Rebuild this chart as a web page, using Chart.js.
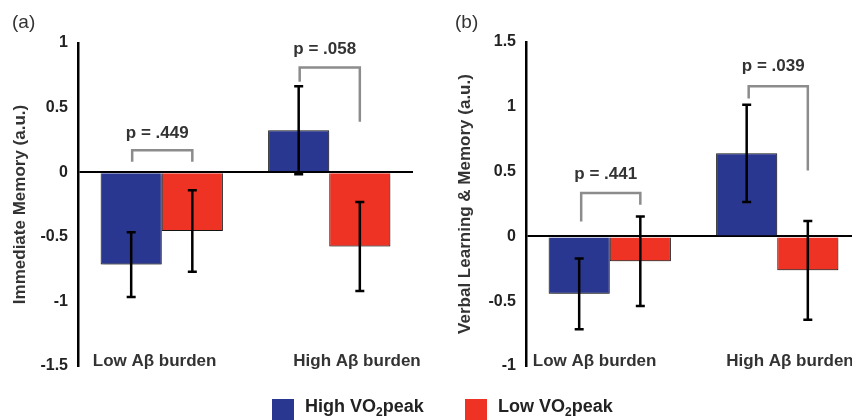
<!DOCTYPE html>
<html><head><meta charset="utf-8">
<script src="https://cdn.jsdelivr.net/npm/chart.js@4/dist/chart.umd.min.js"></script>
<style>
html,body{margin:0;padding:0;width:852px;height:420px;overflow:hidden;background:#fff;}
#wrap{position:relative;width:852px;height:420px;overflow:hidden;}
canvas{position:absolute;top:0;}
#ca{left:0;}
#cb{left:440px;}
.sw{position:absolute;top:399px;width:22px;height:21px;}
.lt{position:absolute;top:396px;font:bold 18px "Liberation Sans",Arial,sans-serif;color:#222;line-height:20px;white-space:nowrap;}
.lt sub{font-size:12px;vertical-align:-4px;line-height:0;}
</style></head>
<body><div id="wrap">
<canvas id="ca" width="430" height="420"></canvas>
<canvas id="cb" width="440" height="420"></canvas>
<div class="sw" style="left:272px;background:#2a3790;"></div>
<div class="lt" style="left:305px;">High VO<sub>2</sub>peak</div>
<div class="sw" style="left:465px;background:#ee3224;"></div>
<div class="lt" style="left:498px;">Low VO<sub>2</sub>peak</div>
</div>
<script>
// ---- data ----
const categories = ["Low Aβ burden", "High Aβ burden"];
const seriesNames = ["High VO₂peak", "Low VO₂peak"];

// Panel (a): Immediate Memory
const memA_highVO2 = [-0.715, 0.325];
const memA_lowVO2  = [-0.455, -0.575];
const errA_highVO2 = [0.25, 0.34];
const errA_lowVO2  = [0.315, 0.345];
const pLabelsA = ["p = .449", "p = .058"];
const bracketTopA = [0.17, 0.81];
const bracketLeftEndA = [0.08, 0.70];
const bracketRightEndA = [0.08, 0.39];
const pTextValA = [0.30, 0.95];
const yTicksA = [-1.5, -1, -0.5, 0, 0.5, 1];

// Panel (b): Verbal Learning & Memory
const memB_highVO2 = [-0.443, 0.641];
const memB_lowVO2  = [-0.192, -0.262];
const errB_highVO2 = [0.273, 0.375];
const errB_lowVO2  = [0.346, 0.381];
const pLabelsB = ["p = .441", "p = .039"];
const bracketTopB = [0.334, 1.159];
const bracketLeftEndB = [0.115, 1.065];
const bracketRightEndB = [0.244, 0.508];
const pTextValB = [0.48, 1.315];
const yTicksB = [-1, -0.5, 0, 0.5, 1, 1.5];

const BLUE = '#2a3790', RED = '#ee3224';
const FONT = '"Liberation Sans", Arial, sans-serif';

function makeChart(id, cfg) {
  const annot = {
    id: 'annot',
    beforeDatasetsDraw(chart) {
      const ctx = chart.ctx;
      ctx.save();
      ctx.shadowColor = 'rgba(0,0,0,0.28)';
      ctx.shadowBlur = 3;
      ctx.shadowOffsetX = 1;
      ctx.shadowOffsetY = 2;
    },
    afterDatasetsDraw(chart) {
      const ctx = chart.ctx;
      ctx.restore();
      const y = chart.scales.y, x = chart.scales.x;
      // error bars
      ctx.save();
      ctx.strokeStyle = '#000';
      ctx.lineWidth = 2.5;
      cfg.errors.forEach((errs, di) => {
        const meta = chart.getDatasetMeta(di);
        meta.data.forEach((bar, i) => {
          const v = chart.data.datasets[di].data[i];
          const yt = y.getPixelForValue(v + errs[i]);
          const yb = y.getPixelForValue(v - errs[i]);
          const bx = bar.x;
          ctx.beginPath();
          ctx.moveTo(bx, yt); ctx.lineTo(bx, yb);
          ctx.moveTo(bx - 4.5, yt); ctx.lineTo(bx + 4.5, yt);
          ctx.moveTo(bx - 4.5, yb); ctx.lineTo(bx + 4.5, yb);
          ctx.stroke();
        });
      });
      ctx.restore();
      // p-value brackets
      ctx.save();
      ctx.strokeStyle = '#8c8c8c';
      ctx.lineWidth = 2.5;
      ctx.lineJoin = 'miter';
      const m0 = chart.getDatasetMeta(0), m1 = chart.getDatasetMeta(1);
      cfg.pLabels.forEach((lab, i) => {
        const xl = m0.data[i].x + cfg.bracketShift, xr = m1.data[i].x;
        const yt = y.getPixelForValue(cfg.bTop[i]);
        ctx.beginPath();
        ctx.moveTo(xl, y.getPixelForValue(cfg.bLeft[i]));
        ctx.lineTo(xl, yt);
        ctx.lineTo(xr, yt);
        ctx.lineTo(xr, y.getPixelForValue(cfg.bRight[i]));
        ctx.stroke();
        ctx.fillStyle = '#333';
        ctx.font = 'bold 17px ' + FONT;
        ctx.textAlign = 'center';
        ctx.textBaseline = 'middle';
        ctx.fillText(lab, (xl + xr) / 2 - 5, y.getPixelForValue(cfg.pVal[i]));
      });
      ctx.restore();
      // category labels
      ctx.save();
      ctx.fillStyle = '#333';
      ctx.font = 'bold 17px ' + FONT;
      ctx.textAlign = 'left';
      ctx.textBaseline = 'middle';
      categories.forEach((c, i) => {
        ctx.fillText(c, x.getPixelForValue(i) + cfg.catOffsets[i], chart.chartArea.bottom - 5);
      });
      // panel label
      ctx.fillStyle = '#333';
      ctx.font = '19px ' + FONT;
      ctx.fillText(cfg.panel, cfg.panelX, 23);
      ctx.restore();
    }
  };
  return new Chart(document.getElementById(id), {
    type: 'bar',
    data: {
      labels: categories,
      datasets: [
        { label: seriesNames[0], data: cfg.high, backgroundColor: BLUE, borderColor: '#1a1a1a', borderWidth: 1 },
        { label: seriesNames[1], data: cfg.low, backgroundColor: RED, borderColor: '#1a1a1a', borderWidth: 1 }
      ]
    },
    options: {
      responsive: false,
      animation: false,
      layout: { padding: cfg.padding },
      categoryPercentage: 0.73,
      barPercentage: 1.0,
      plugins: { legend: { display: false }, tooltip: { enabled: false } },
      scales: {
        x: { display: false, grid: { display: false } },
        y: {
          min: cfg.yTicks[0], max: cfg.yTicks[cfg.yTicks.length - 1],
          afterBuildTicks: s => { s.ticks = cfg.yTicks.map(v => ({ value: v })); },
          afterFit: s => { s.width = cfg.yWidth; },
          ticks: { padding: 10, color: '#222', font: { family: FONT, size: 16, weight: 'bold' },
                   callback: v => String(v) },
          grid: { drawTicks: false, lineWidth: 2,
                  color: c => (c.tick && c.tick.value === 0) ? '#000' : 'rgba(0,0,0,0)' },
          border: { display: true, color: '#000', width: 2.5 },
          title: { display: true, text: cfg.title, color: '#333',
                   font: { family: FONT, size: 17, weight: 'bold' },
                   padding: { top: cfg.titlePad, bottom: 0 } }
        }
      }
    },
    plugins: [annot]
  });
}

makeChart('ca', {
  high: memA_highVO2, low: memA_lowVO2, errors: [errA_highVO2, errA_lowVO2],
  pLabels: pLabelsA, bTop: bracketTopA, bLeft: bracketLeftEndA, bRight: bracketRightEndA, pVal: pTextValA,
  yTicks: yTicksA, yWidth: 78, title: 'Immediate Memory (a.u.)', titlePad: 10,
  padding: { top: 43, bottom: 54, left: 0, right: 17 },
  catOffsets: [-69, -36], panel: '(a)', panelX: 12, bracketShift: 1
});
makeChart('cb', {
  high: memB_highVO2, low: memB_lowVO2, errors: [errB_highVO2, errB_lowVO2],
  pLabels: pLabelsB, bTop: bracketTopB, bLeft: bracketLeftEndB, bRight: bracketRightEndB, pVal: pTextValB,
  yTicks: yTicksB, yWidth: 86, title: 'Verbal Learning & Memory (a.u.)', titlePad: 15,
  padding: { top: 42, bottom: 54, left: 0, right: 19 },
  catOffsets: [-77, -51], panel: '(b)', panelX: 15, bracketShift: 2
});
</script>
</body></html>
